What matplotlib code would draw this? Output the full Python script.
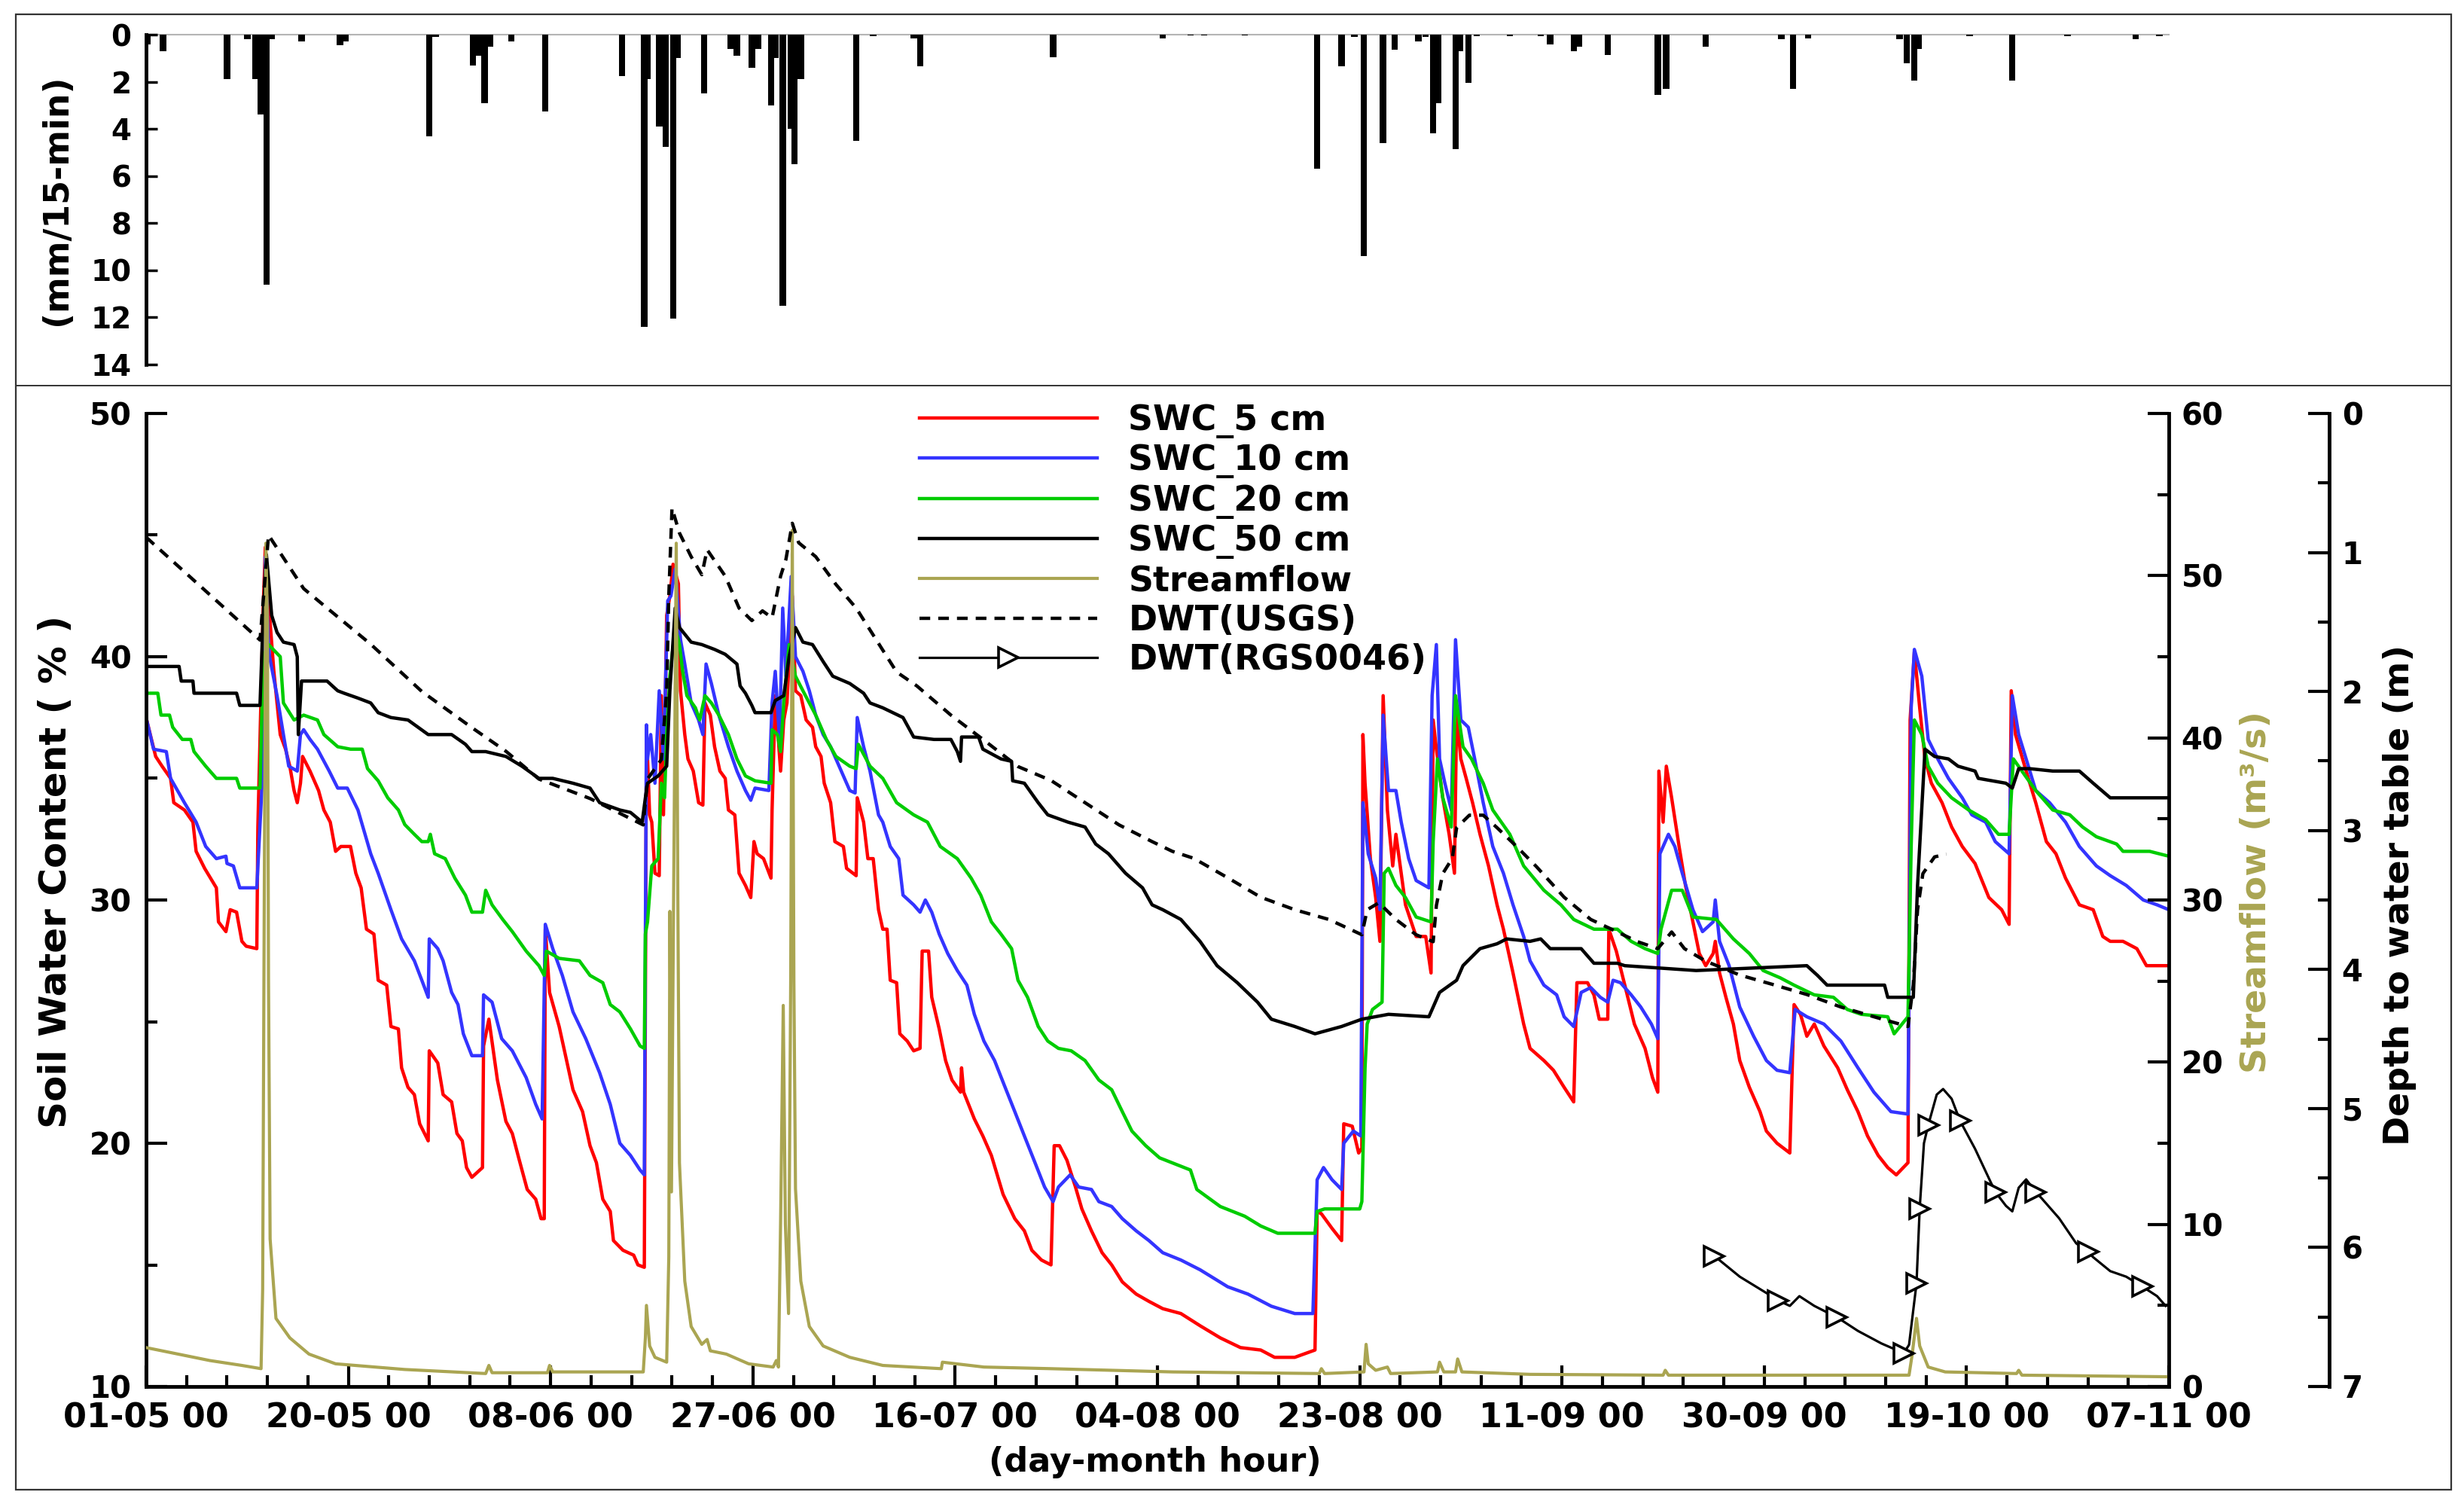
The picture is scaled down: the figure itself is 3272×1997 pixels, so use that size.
import matplotlib
matplotlib.use("Agg")
import matplotlib.pyplot as plt
from matplotlib.ticker import MultipleLocator, FixedLocator
from matplotlib.patches import Rectangle
from matplotlib.lines import Line2D

plt.rcParams["font.family"] = ["DejaVu Sans"]
plt.rcParams["font.weight"] = "bold"
plt.rcParams["axes.labelweight"] = "bold"

# day 0 = 01-05 00
tick_days = [0, 19, 38, 57, 76, 95, 114, 133, 152, 171, 190]
tick_labels = ["01-05 00", "20-05 00", "08-06 00", "27-06 00", "16-07 00", "04-08 00",
               "23-08 00", "11-09 00", "30-09 00", "19-10 00", "07-11 00"]

# rainfall (day, mm/15-min)
rain = [(0.1, 0.4), (1.6, 0.7), (7.6, 1.9), (9.5, 0.2), (10.3, 1.9), (10.8, 3.4), (11.3, 10.6),
        (11.8, 0.2), (14.6, 0.3), (18.2, 0.45), (18.7, 0.3), (26.6, 4.3), (27.2, 0.1), (30.7, 1.3),
        (31.3, 0.9), (31.8, 2.9), (32.3, 0.5), (34.3, 0.3), (37.5, 3.25), (44.7, 1.75), (46.8, 12.4),
        (47.1, 1.9), (48.2, 3.9), (48.8, 4.75), (49.5, 12.05), (49.9, 1.0), (52.4, 2.5), (54.9, 0.6),
        (55.5, 0.9), (56.9, 1.4), (57.5, 0.6), (58.7, 3.0), (59.1, 1.0), (59.8, 11.5), (60.6, 4.0),
        (60.9, 5.5), (61.5, 1.9), (66.7, 4.5), (68.3, 0.05), (72.1, 0.15), (72.7, 1.35), (85.2, 0.95),
        (95.5, 0.15), (98.1, 0.03), (99.4, 0.03), (103.2, 0.03), (110.0, 5.7), (112.3, 1.35),
        (113.5, 0.1), (114.4, 9.4), (116.2, 4.6), (117.3, 0.65), (119.5, 0.3), (120.2, 0.1),
        (120.9, 4.2), (121.4, 2.9), (123.0, 4.85), (123.4, 0.7), (124.2, 2.05), (125.0, 0.05),
        (128.1, 0.05), (131.0, 0.05), (131.9, 0.4), (134.1, 0.7), (134.6, 0.5), (137.3, 0.85),
        (142.0, 2.55), (142.8, 2.3), (146.5, 0.5), (153.6, 0.2), (154.7, 2.3), (156.1, 0.15),
        (164.7, 0.2), (165.4, 1.2), (166.1, 1.95), (166.5, 0.6), (171.3, 0.05), (175.3, 1.95),
        (180.5, 0.05), (186.9, 0.2), (189.1, 0.05)]

# soil water content (day, %)
swc_5 = [(0.0, 37.5), (0.9, 35.9), (1.5, 35.5), (2.3, 35.0), (2.6, 34.0), (3.6, 33.7), (4.4, 33.2),
         (4.7, 32.0), (5.5, 31.3), (6.6, 30.5), (6.8, 29.1), (7.5, 28.7), (7.9, 29.6), (8.5, 29.5),
         (9.0, 28.3), (9.4, 28.1), (10.4, 28.0), (10.5, 33.0), (11.0, 42.0), (11.2, 44.5), (11.6, 41.7),
         (12.0, 39.4), (12.6, 36.8), (13.1, 36.2), (13.5, 35.5), (13.9, 34.5), (14.2, 34.0), (14.5, 34.8),
         (14.7, 35.9), (15.4, 35.3), (16.2, 34.5), (16.7, 33.7), (17.3, 33.2), (17.8, 32.0), (18.3, 32.2),
         (19.2, 32.2), (19.7, 31.1), (20.2, 30.5), (20.7, 28.8), (21.4, 28.6), (21.8, 26.7), (22.6, 26.5),
         (23.0, 24.8), (23.7, 24.7), (24.0, 23.1), (24.6, 22.3), (25.2, 22.0), (25.7, 20.8), (26.5, 20.1),
         (26.6, 23.8), (27.4, 23.3), (27.9, 22.0), (28.7, 21.7), (29.2, 20.4), (29.7, 20.1), (30.1, 19.0),
         (30.6, 18.6), (31.6, 19.0), (31.7, 24.0), (32.2, 25.1), (33.0, 22.6), (33.8, 20.9), (34.4, 20.4),
         (35.0, 19.4), (35.8, 18.1), (36.6, 17.7), (37.1, 16.9), (37.4, 16.9), (37.5, 28.8), (37.9, 26.2),
         (38.8, 24.8), (39.4, 23.6), (40.1, 22.2), (41.0, 21.3), (41.7, 19.9), (42.3, 19.2), (42.9, 17.7),
         (43.6, 17.2), (43.9, 16.0), (44.8, 15.6), (45.8, 15.4), (46.2, 15.0), (46.8, 14.9), (47.0, 37.0),
         (47.3, 33.5), (47.5, 33.2), (47.8, 31.1), (48.2, 31.0), (48.4, 38.4), (48.6, 33.5), (48.9, 41.7),
         (49.2, 42.5), (49.5, 43.8), (50.0, 43.0), (50.2, 38.6), (50.6, 36.8), (50.9, 35.8), (51.4, 35.3),
         (51.9, 34.0), (52.3, 33.9), (52.5, 38.1), (53.0, 37.6), (53.4, 36.3), (53.9, 35.3), (54.4, 35.0),
         (54.7, 33.7), (55.3, 33.5), (55.7, 31.1), (56.3, 30.6), (56.8, 30.1), (57.1, 32.4), (57.4, 31.9),
         (58.0, 31.7), (58.7, 30.9), (58.8, 33.7), (59.1, 38.4), (59.6, 35.3), (59.9, 37.4), (60.2, 38.1),
         (60.7, 42.5), (61.0, 38.6), (61.5, 38.4), (62.0, 37.4), (62.6, 37.1), (62.9, 36.3), (63.4, 35.9),
         (63.7, 34.8), (64.3, 34.0), (64.7, 32.4), (65.5, 32.2), (65.8, 31.3), (66.7, 31.0), (66.8, 34.2),
         (67.4, 33.2), (67.8, 31.7), (68.3, 31.7), (68.8, 29.6), (69.2, 28.8), (69.6, 28.8), (69.9, 26.7),
         (70.5, 26.6), (70.8, 24.5), (71.5, 24.2), (72.1, 23.8), (72.7, 23.9), (72.9, 27.9), (73.5, 27.9),
         (73.8, 26.0), (74.5, 24.7), (75.1, 23.4), (75.7, 22.6), (76.5, 22.1), (76.6, 23.1), (76.8, 22.1),
         (77.8, 21.0), (78.6, 20.3), (79.4, 19.5), (80.5, 17.9), (81.6, 16.9), (82.5, 16.4), (83.2, 15.6),
         (84.1, 15.2), (85.0, 15.0), (85.3, 19.9), (85.8, 19.9), (86.5, 19.3), (87.3, 18.2), (87.9, 17.3),
         (88.8, 16.4), (89.8, 15.5), (90.7, 15.0), (91.7, 14.3), (93.0, 13.8), (94.2, 13.5), (95.5, 13.2),
         (97.2, 13.0), (99.0, 12.5), (100.9, 12.0), (102.8, 11.6), (104.7, 11.5), (106.0, 11.2),
         (107.9, 11.2), (109.8, 11.5), (110.0, 17.2), (110.4, 17.1), (111.4, 16.5), (112.3, 16.0),
         (112.5, 20.8), (113.3, 20.7), (113.9, 19.6), (114.2, 19.8), (114.3, 36.8), (114.5, 34.8),
         (115.0, 31.7), (115.5, 30.1), (115.9, 28.3), (116.2, 38.4), (116.6, 33.7), (117.1, 31.4),
         (117.4, 32.7), (117.9, 31.1), (118.3, 29.8), (119.3, 28.5), (120.2, 28.5), (120.7, 27.0),
         (120.9, 37.4), (121.2, 36.2), (121.8, 34.2), (122.4, 32.7), (122.9, 31.1), (123.1, 37.6),
         (123.5, 35.8), (124.0, 35.0), (124.6, 34.0), (125.3, 32.7), (126.1, 31.4), (126.9, 29.8),
         (127.5, 28.8), (128.4, 27.0), (129.4, 24.9), (130.0, 23.9), (131.3, 23.4), (132.2, 23.0),
         (133.2, 22.3), (134.1, 21.7), (134.4, 26.6), (135.4, 26.6), (136.0, 26.1), (136.5, 25.1),
         (137.3, 25.1), (137.4, 28.8), (138.1, 27.9), (138.9, 26.5), (139.8, 24.9), (140.8, 23.9),
         (141.5, 22.7), (142.0, 22.1), (142.1, 35.3), (142.5, 33.2), (142.8, 35.5), (143.3, 34.2),
         (144.0, 32.2), (144.6, 30.6), (145.3, 29.1), (145.9, 27.8), (146.5, 27.3), (147.2, 27.8),
         (147.4, 28.3), (147.8, 27.0), (148.4, 26.0), (149.1, 24.9), (149.7, 23.4), (150.6, 22.3),
         (151.6, 21.3), (152.2, 20.5), (153.2, 20.0), (154.4, 19.6), (154.8, 25.7), (155.4, 25.3),
         (156.0, 24.4), (156.7, 24.9), (157.6, 24.0), (158.9, 23.1), (159.8, 22.2), (160.8, 21.3),
         (161.7, 20.3), (162.7, 19.5), (163.6, 19.0), (164.4, 18.7), (165.5, 19.2), (165.7, 37.4),
         (166.1, 40.2), (166.6, 37.9), (167.1, 35.8), (167.7, 34.8), (168.7, 34.0), (169.6, 33.0),
         (170.6, 32.2), (171.8, 31.5), (173.1, 30.1), (174.3, 29.6), (175.0, 29.0), (175.2, 38.6),
         (175.6, 36.8), (176.6, 35.3), (177.5, 34.0), (178.5, 32.4), (179.4, 31.9), (180.3, 30.9),
         (181.6, 29.8), (182.9, 29.6), (183.8, 28.5), (184.5, 28.3), (185.7, 28.3), (187.0, 28.0),
         (187.9, 27.3), (190.0, 27.3)]

swc_10 = [(0.0, 37.5), (0.7, 36.2), (1.9, 36.1), (2.3, 35.0), (3.6, 34.0), (4.7, 33.2), (5.6, 32.2),
          (6.6, 31.7), (7.5, 31.8), (7.6, 31.5), (8.2, 31.4), (8.8, 30.5), (10.4, 30.5), (10.9, 34.8),
          (11.2, 44.1), (11.5, 40.5), (11.6, 40.0), (12.3, 38.4), (12.9, 36.8), (13.4, 35.5), (14.2, 35.3),
          (14.5, 36.8), (14.8, 37.0), (15.4, 36.6), (16.1, 36.2), (17.2, 35.3), (18.0, 34.6), (18.9, 34.6),
          (19.9, 33.7), (21.1, 31.9), (21.8, 31.1), (23.0, 29.6), (24.0, 28.4), (25.2, 27.5), (25.9, 26.7),
          (26.5, 26.0), (26.6, 28.4), (27.4, 28.0), (27.9, 27.5), (28.7, 26.2), (29.3, 25.7), (29.8, 24.5),
          (30.6, 23.6), (31.6, 23.6), (31.7, 26.1), (32.5, 25.8), (33.4, 24.3), (34.4, 23.8), (35.7, 22.7),
          (36.6, 21.6), (37.2, 21.0), (37.5, 29.0), (38.2, 28.0), (39.1, 26.9), (40.1, 25.4), (41.3, 24.3),
          (42.6, 22.9), (43.6, 21.6), (44.5, 20.0), (45.5, 19.5), (46.4, 18.9), (46.8, 18.7), (46.9, 28.6),
          (47.0, 37.2), (47.1, 35.8), (47.4, 36.8), (47.8, 34.8), (48.2, 38.6), (48.6, 35.8), (49.0, 42.3),
          (49.3, 42.5), (49.7, 43.6), (50.2, 40.7), (50.6, 39.7), (51.2, 38.1), (51.9, 37.4), (52.3, 36.8),
          (52.6, 39.7), (53.1, 38.9), (53.8, 37.6), (54.7, 36.3), (55.5, 35.3), (56.3, 34.5), (56.8, 34.1),
          (57.2, 34.6), (58.5, 34.5), (58.8, 38.1), (59.1, 39.4), (59.5, 36.6), (59.8, 42.0), (60.1, 39.2),
          (60.6, 43.3), (61.0, 40.0), (61.7, 39.4), (62.3, 38.6), (62.9, 37.6), (63.6, 36.8), (64.3, 36.3),
          (65.3, 35.3), (66.1, 34.5), (66.6, 34.4), (66.8, 37.5), (67.4, 36.3), (68.0, 35.3), (68.8, 33.5),
          (69.2, 33.2), (69.9, 32.2), (70.7, 31.7), (71.1, 30.2), (72.1, 29.8), (72.7, 29.5), (73.2, 30.0),
          (73.8, 29.5), (74.5, 28.6), (75.3, 27.8), (76.2, 27.1), (77.1, 26.5), (77.8, 25.3), (78.7, 24.2),
          (79.7, 23.4), (80.6, 22.4), (81.6, 21.3), (82.5, 20.3), (83.5, 19.2), (84.4, 18.2), (85.2, 17.6),
          (85.7, 18.2), (86.8, 18.7), (87.6, 18.2), (88.8, 18.1), (89.5, 17.6), (90.7, 17.4), (91.7, 16.9),
          (93.0, 16.4), (94.2, 16.0), (95.5, 15.5), (97.2, 15.2), (99.0, 14.8), (101.6, 14.1), (103.5, 13.8),
          (105.7, 13.3), (107.9, 13.0), (109.6, 13.0), (110.0, 18.5), (110.6, 19.0), (111.4, 18.5),
          (112.3, 18.1), (112.5, 20.0), (113.4, 20.5), (114.1, 20.3), (114.3, 34.0), (114.8, 31.9),
          (115.5, 30.9), (115.9, 29.6), (116.2, 37.6), (116.7, 34.5), (117.4, 34.5), (117.9, 33.2),
          (118.6, 31.7), (119.3, 30.8), (120.5, 30.5), (120.8, 38.4), (121.2, 40.5), (121.5, 35.8),
          (122.0, 34.8), (122.6, 33.7), (123.0, 40.7), (123.5, 37.4), (124.2, 37.1), (124.8, 35.8),
          (125.6, 34.0), (126.5, 32.2), (127.5, 31.1), (128.4, 29.8), (129.4, 28.5), (130.0, 27.5),
          (131.3, 26.5), (132.5, 26.1), (133.2, 25.2), (134.1, 24.8), (134.8, 26.2), (135.7, 26.4),
          (136.6, 26.0), (137.3, 25.8), (137.8, 26.7), (138.5, 26.6), (139.5, 26.1), (140.4, 25.6),
          (141.4, 24.9), (142.0, 24.3), (142.2, 31.9), (143.0, 32.7), (143.6, 32.2), (144.3, 31.1),
          (145.3, 29.6), (146.2, 28.7), (147.2, 29.1), (147.4, 30.0), (147.8, 28.3), (148.7, 27.3),
          (149.7, 25.6), (151.0, 24.4), (152.2, 23.4), (153.2, 23.0), (154.4, 22.9), (154.9, 25.5),
          (156.0, 25.2), (157.6, 24.9), (159.2, 24.2), (160.8, 23.1), (162.3, 22.1), (163.9, 21.3),
          (165.5, 21.2), (165.8, 37.9), (166.1, 40.3), (166.8, 39.2), (167.4, 36.6), (168.3, 35.8),
          (169.3, 35.0), (170.6, 34.2), (171.5, 33.5), (172.8, 33.2), (173.7, 32.4), (175.0, 31.9),
          (175.3, 38.4), (175.9, 36.8), (176.6, 35.8), (177.5, 34.5), (178.8, 34.0), (180.3, 33.2),
          (181.6, 32.2), (183.2, 31.4), (184.5, 31.0), (186.0, 30.6), (187.6, 30.0), (188.9, 29.8),
          (190.0, 29.6)]

swc_20 = [(0.0, 38.5), (1.1, 38.5), (1.4, 37.6), (2.2, 37.6), (2.5, 37.1), (3.4, 36.6), (4.2, 36.6),
          (4.5, 36.1), (5.6, 35.5), (6.6, 35.0), (8.5, 35.0), (8.8, 34.6), (10.7, 34.6), (11.0, 40.0),
          (11.5, 40.5), (12.6, 40.0), (12.9, 38.1), (13.9, 37.4), (14.8, 37.6), (16.1, 37.4), (16.7, 36.8),
          (18.0, 36.3), (19.2, 36.2), (20.3, 36.2), (20.8, 35.4), (21.8, 34.9), (22.7, 34.2), (23.7, 33.7),
          (24.3, 33.1), (25.2, 32.7), (25.9, 32.4), (26.5, 32.4), (26.7, 32.7), (27.1, 31.9), (28.1, 31.7),
          (29.0, 30.9), (30.0, 30.2), (30.6, 29.5), (31.6, 29.5), (31.9, 30.4), (32.5, 29.8), (33.5, 29.2),
          (34.4, 28.7), (35.7, 27.9), (36.9, 27.3), (37.4, 26.9), (37.6, 27.9), (38.8, 27.6), (40.7, 27.5),
          (41.7, 26.9), (42.9, 26.6), (43.6, 25.7), (44.5, 25.4), (45.5, 24.7), (46.4, 24.0), (46.8, 23.9),
          (46.9, 28.6), (47.1, 29.1), (47.5, 31.4), (48.1, 31.7), (48.4, 34.8), (48.7, 34.2), (48.9, 36.8),
          (49.2, 39.2), (49.7, 41.2), (50.1, 40.5), (50.4, 39.4), (50.8, 38.4), (51.6, 37.9), (52.0, 37.4),
          (52.5, 38.4), (53.1, 38.1), (53.8, 37.6), (54.7, 36.8), (55.5, 35.8), (56.3, 35.1), (57.2, 34.9),
          (58.7, 34.8), (58.8, 37.0), (59.3, 36.8), (59.6, 36.1), (59.9, 38.1), (60.4, 40.5), (61.0, 39.2),
          (61.7, 38.6), (62.3, 38.1), (62.9, 37.6), (63.9, 36.6), (64.8, 35.9), (66.1, 35.5), (66.7, 35.4),
          (66.9, 36.4), (68.0, 35.5), (69.2, 35.0), (70.5, 34.0), (72.1, 33.5), (73.4, 33.2), (74.6, 32.2),
          (76.2, 31.7), (77.5, 30.9), (78.4, 30.2), (79.4, 29.1), (80.3, 28.6), (81.3, 28.0), (81.9, 26.7),
          (82.8, 26.0), (83.8, 24.8), (84.7, 24.2), (85.7, 23.9), (86.9, 23.8), (88.2, 23.4), (89.5, 22.6),
          (90.7, 22.2), (91.7, 21.3), (92.6, 20.5), (93.9, 19.9), (95.2, 19.4), (98.1, 18.9), (98.7, 18.1),
          (100.9, 17.4), (103.2, 17.0), (104.7, 16.6), (106.3, 16.3), (109.8, 16.3), (110.0, 17.2),
          (110.7, 17.3), (114.0, 17.3), (114.2, 17.6), (114.5, 23.1), (114.7, 24.9), (115.2, 25.5),
          (116.1, 25.8), (116.3, 31.1), (116.7, 31.3), (117.4, 30.6), (118.3, 30.1), (119.3, 29.3),
          (120.7, 29.1), (120.9, 32.4), (121.3, 35.8), (121.8, 34.2), (122.6, 33.0), (123.0, 38.4),
          (123.7, 36.3), (124.5, 35.8), (125.6, 34.8), (126.5, 33.7), (128.1, 32.7), (129.4, 31.4),
          (131.3, 30.4), (132.9, 29.8), (134.1, 29.2), (136.0, 28.8), (138.2, 28.8), (139.5, 28.3),
          (140.8, 28.0), (142.0, 27.8), (142.3, 28.8), (143.3, 30.4), (144.3, 30.4), (145.3, 29.3),
          (147.5, 29.2), (149.1, 28.4), (150.6, 27.8), (151.9, 27.1), (153.5, 26.8), (154.8, 26.5),
          (156.7, 26.1), (158.5, 26.0), (159.8, 25.5), (161.1, 25.3), (163.6, 25.2), (164.2, 24.5),
          (165.5, 25.2), (165.8, 32.2), (166.1, 37.4), (166.8, 36.8), (167.4, 35.5), (168.3, 34.8),
          (169.6, 34.2), (171.2, 33.7), (172.8, 33.3), (174.0, 32.7), (175.0, 32.7), (175.4, 35.8),
          (176.2, 35.3), (177.5, 34.5), (179.1, 33.7), (180.7, 33.5), (181.9, 33.0), (183.2, 32.6),
          (185.1, 32.3), (185.7, 32.0), (188.2, 32.0), (190.0, 31.8)]

swc_50 = [(0.0, 39.6), (3.1, 39.6), (3.3, 39.0), (4.4, 39.0), (4.5, 38.5), (8.5, 38.5), (8.8, 38.0),
          (10.7, 38.0), (11.0, 41.7), (11.3, 44.2), (11.8, 41.7), (12.3, 41.0), (12.9, 40.6), (13.9, 40.5),
          (14.2, 40.0), (14.3, 36.8), (14.6, 39.0), (17.0, 39.0), (18.0, 38.6), (18.6, 38.5), (19.9, 38.3),
          (21.1, 38.1), (21.8, 37.7), (22.4, 37.6), (23.0, 37.5), (24.6, 37.4), (26.5, 36.8), (28.7, 36.8),
          (30.0, 36.4), (30.6, 36.1), (31.9, 36.1), (33.8, 35.9), (35.3, 35.5), (36.9, 35.0), (38.2, 35.0),
          (40.1, 34.8), (41.7, 34.6), (42.6, 34.0), (44.5, 33.7), (45.5, 33.6), (46.6, 33.2), (46.9, 34.2),
          (47.1, 34.8), (48.1, 35.1), (48.9, 35.5), (49.2, 38.6), (49.7, 42.0), (50.1, 41.2), (51.2, 40.6),
          (52.2, 40.5), (53.4, 40.3), (54.4, 40.1), (55.5, 39.7), (55.8, 38.8), (56.3, 38.5), (56.9, 38.0),
          (57.2, 37.7), (58.7, 37.7), (59.1, 38.2), (59.9, 38.4), (60.4, 40.0), (61.0, 41.2), (61.7, 40.6),
          (62.6, 40.5), (63.6, 39.8), (64.5, 39.2), (66.1, 38.9), (67.4, 38.5), (68.0, 38.1), (69.2, 37.9),
          (71.1, 37.5), (72.1, 36.7), (74.0, 36.6), (75.6, 36.6), (76.2, 36.1), (76.5, 35.7), (76.6, 36.7),
          (78.2, 36.7), (78.6, 36.2), (80.3, 35.8), (81.3, 35.7), (81.4, 34.9), (82.5, 34.8), (83.8, 34.0),
          (84.7, 33.5), (86.6, 33.2), (88.2, 33.0), (89.2, 32.3), (90.4, 31.9), (92.0, 31.1), (93.6, 30.5),
          (94.5, 29.8), (95.5, 29.6), (97.2, 29.2), (99.0, 28.3), (100.6, 27.3), (102.5, 26.6), (104.4, 25.8),
          (105.7, 25.1), (107.9, 24.8), (109.8, 24.5), (112.3, 24.8), (114.2, 25.1), (116.7, 25.3),
          (120.5, 25.2), (121.5, 26.2), (123.1, 26.7), (123.7, 27.3), (125.3, 28.0), (126.9, 28.2),
          (127.8, 28.4), (130.0, 28.3), (131.0, 28.4), (131.9, 28.0), (134.8, 28.0), (136.0, 27.4),
          (138.2, 27.4), (138.9, 27.3), (145.6, 27.1), (156.0, 27.3), (157.0, 26.9), (157.9, 26.5),
          (163.3, 26.5), (163.6, 26.0), (166.0, 26.0), (166.4, 30.6), (167.1, 36.2), (168.0, 35.9),
          (169.3, 35.8), (170.2, 35.5), (171.8, 35.3), (172.1, 35.0), (174.7, 34.8), (175.3, 34.6),
          (175.9, 35.4), (176.9, 35.4), (179.1, 35.3), (181.6, 35.3), (182.9, 34.8), (184.5, 34.2),
          (190.0, 34.2)]

# streamflow (day, m3/s)
streamflow = [(0.0, 2.4), (3.0, 2.0), (6.0, 1.6), (9.0, 1.3), (10.8, 1.1), (10.95, 6.0), (11.1, 30.0),
              (11.25, 52.0), (11.4, 47.0), (11.5, 25.0), (11.65, 9.1), (12.2, 4.2), (13.5, 3.0),
              (15.3, 2.0), (17.8, 1.4), (24.3, 1.05), (31.9, 0.8), (32.2, 1.3), (32.5, 0.85), (37.7, 0.85),
              (37.9, 1.3), (38.2, 0.9), (46.7, 0.9), (46.9, 3.0), (47.0, 5.0), (47.3, 2.5), (47.8, 1.8),
              (48.9, 1.5), (49.1, 8.0), (49.2, 29.3), (49.35, 12.0), (49.55, 30.0), (49.8, 52.0),
              (49.95, 30.0), (50.1, 13.8), (50.6, 6.5), (51.2, 3.7), (52.2, 2.6), (52.7, 2.9), (53.0, 2.2),
              (54.5, 2.0), (56.6, 1.4), (58.9, 1.2), (59.2, 1.6), (59.4, 1.2), (59.6, 10.1), (59.85, 23.5),
              (60.05, 10.0), (60.35, 4.5), (60.55, 25.0), (60.7, 52.8), (60.85, 25.0), (61.0, 12.2),
              (61.5, 6.5), (62.3, 3.7), (63.6, 2.5), (66.1, 1.8), (69.2, 1.3), (74.7, 1.1), (74.8, 1.5),
              (78.7, 1.2), (85.0, 1.1), (96.4, 0.9), (110.2, 0.8), (110.4, 1.1), (110.7, 0.8), (114.4, 0.9),
              (114.6, 2.6), (114.8, 1.4), (115.5, 1.0), (116.6, 1.2), (116.9, 0.8), (121.3, 0.9),
              (121.5, 1.5), (121.9, 0.9), (123.0, 0.9), (123.2, 1.7), (123.6, 0.9), (130.0, 0.75),
              (142.5, 0.7), (142.7, 1.0), (143.0, 0.7), (165.6, 0.7), (165.9, 2.0), (166.3, 4.2),
              (166.6, 2.5), (167.4, 1.2), (169.0, 0.9), (175.7, 0.8), (175.9, 1.0), (176.2, 0.7),
              (190.0, 0.6)]

# depth to water table (day, m)
dwt_usgs = [(0.0, 0.89), (10.7, 1.63), (11.5, 0.875), (14.8, 1.26), (21.1, 1.66), (25.9, 2.0),
            (30.6, 2.26), (33.8, 2.43), (36.9, 2.63), (41.7, 2.77), (46.7, 2.96), (47.1, 2.63),
            (48.4, 2.49), (48.9, 2.0), (49.1, 1.31), (49.4, 0.68), (50.1, 0.86), (51.2, 1.03),
            (52.2, 1.16), (52.7, 0.98), (54.4, 1.17), (55.7, 1.40), (56.9, 1.49), (57.9, 1.42),
            (58.8, 1.47), (59.6, 1.17), (60.1, 1.05), (60.7, 0.79), (61.3, 0.93), (62.9, 1.03),
            (64.8, 1.23), (66.7, 1.40), (68.6, 1.63), (70.5, 1.86), (72.4, 1.96), (75.6, 2.17),
            (78.7, 2.35), (81.9, 2.54), (85.0, 2.64), (88.2, 2.80), (91.4, 2.96), (94.5, 3.08),
            (96.4, 3.15), (98.4, 3.20), (101.6, 3.34), (104.7, 3.48), (107.9, 3.57), (111.1, 3.64),
            (114.2, 3.75), (114.7, 3.57), (115.8, 3.52), (117.4, 3.64), (119.3, 3.75), (120.9, 3.80),
            (121.2, 3.54), (121.8, 3.31), (122.7, 3.20), (123.1, 2.98), (124.3, 2.89), (125.6, 2.89),
            (126.9, 2.98), (128.8, 3.12), (130.6, 3.26), (133.2, 3.48), (135.7, 3.64), (138.2, 3.73),
            (140.1, 3.80), (142.0, 3.85), (143.3, 3.73), (144.5, 3.85), (146.5, 3.94), (149.7, 4.04),
            (152.9, 4.11), (156.0, 4.18), (159.2, 4.27), (162.3, 4.34), (165.5, 4.41), (166.0, 4.11),
            (166.4, 3.57), (166.9, 3.31), (168.0, 3.19), (169.1, 3.17)]

dwt_rgs = [(147.3, 6.06), (149.7, 6.21), (152.9, 6.36), (153.3, 6.38), (154.4, 6.42), (155.3, 6.35),
           (156.7, 6.42), (158.5, 6.49), (158.8, 6.50), (160.8, 6.60), (163.0, 6.69), (165.1, 6.76),
           (165.6, 6.70), (166.3, 6.26), (166.6, 5.72), (167.0, 5.25), (167.4, 5.12), (168.2, 4.90),
           (168.8, 4.86), (169.6, 4.93), (170.4, 5.09), (171.8, 5.29), (173.7, 5.60), (174.7, 5.70),
           (175.3, 5.74), (175.9, 5.57), (176.6, 5.51), (177.5, 5.60), (178.1, 5.65), (179.7, 5.79),
           (181.3, 5.97), (182.4, 6.03), (182.9, 6.07), (184.5, 6.17), (186.0, 6.21), (187.5, 6.28),
           (188.9, 6.35), (189.7, 6.42)]
rgs_marker_idx = [0, 3, 8, 11, 13, 14, 16, 20, 22, 27, 31, 35]

OLIVE = "#aaa552"
W, H = 3273, 1997

fig = plt.figure(figsize=(W / 100, H / 100), dpi=100)


def box(x0, y0, x1, y1):
    return [x0 / W, 1 - y1 / H, (x1 - x0) / W, (y1 - y0) / H]


# rainfall panel
ax_rain = fig.add_axes(box(194, 46, 2880, 484))
rd, rv = zip(*rain)
ax_rain.bar(rd, rv, width=0.6, color="black", zorder=2)
ax_rain.axhline(0, color="#b5b5b5", lw=1.5, clip_on=False, zorder=1)
ax_rain.set_xlim(0, 190)
ax_rain.set_ylim(14, 0)
for s in ["top", "right", "bottom"]:
    ax_rain.spines[s].set_visible(False)
ax_rain.spines["left"].set_linewidth(3.5)
ax_rain.set_xticks([])
ax_rain.yaxis.set_major_locator(MultipleLocator(2))
ax_rain.tick_params(axis="y", direction="in", length=11, width=2.5, labelsize=28, pad=14)
ax_rain.set_ylabel("(mm/15-min)", fontsize=33)
ax_rain.yaxis.set_label_coords(-0.0357, 0.5)

# main panel
ax = fig.add_axes(box(194, 549, 2880, 1841))
ax_q = ax.twinx()
ax_d = ax.twinx()

series = [(swc_5, "#ff0000", "SWC_5 cm"), (swc_10, "#3434ff", "SWC_10 cm"),
          (swc_20, "#00cc00", "SWC_20 cm"), (swc_50, "black", "SWC_50 cm")]
handles = []
for data, col, lab in series:
    d, v = zip(*data)
    h, = ax.plot(d, v, color=col, lw=3.2, label=lab)
    handles.append(h)

qd, qv = zip(*streamflow)
h, = ax_q.plot(qd, qv, color=OLIVE, lw=3.0, label="Streamflow")
handles.append(h)

ud, uv = zip(*dwt_usgs)
h, = ax_d.plot(ud, uv, color="black", lw=3.2, ls=(0, (3.2, 2.4)), label="DWT(USGS)")
handles.append(h)
gd, gv = zip(*dwt_rgs)
h, = ax_d.plot(gd, gv, color="black", lw=2.3, marker=">", ms=19, mfc="white", mec="black",
               mew=2.6, markevery=rgs_marker_idx, label="DWT(RGS0046)")
handles.append(h)

ax.set_xlim(0, 190)
ax.set_ylim(10, 50)
ax.xaxis.set_major_locator(FixedLocator(tick_days))
ax.set_xticklabels(tick_labels)
ax.xaxis.set_minor_locator(MultipleLocator(3.8))
ax.yaxis.set_major_locator(MultipleLocator(10))
ax.yaxis.set_minor_locator(MultipleLocator(5))
ax.tick_params(which="both", direction="in", width=3)
ax.tick_params(which="major", length=20)
ax.tick_params(which="minor", length=11)
ax.tick_params(axis="y", labelsize=29, pad=14)
ax.tick_params(axis="x", labelsize=32, pad=15)
for s in ["top", "right"]:
    ax.spines[s].set_visible(False)
for s in ["left", "bottom"]:
    ax.spines[s].set_linewidth(3.5)
ax.set_ylabel("Soil Water Content ( % )", fontsize=36)
ax.yaxis.set_label_coords(-0.0357, 0.529)
ax.set_xlabel("(day-month hour)", fontsize=32)
ax.xaxis.set_label_coords(0.4989, -0.061)

ax_q.set_ylim(0, 60)
ax_q.yaxis.set_major_locator(MultipleLocator(10))
ax_q.yaxis.set_minor_locator(MultipleLocator(5))
ax_q.tick_params(which="both", direction="in", width=3)
ax_q.tick_params(which="major", length=20, labelsize=29, pad=12)
ax_q.tick_params(which="minor", length=11)
for s in ["top", "left", "bottom"]:
    ax_q.spines[s].set_visible(False)
ax_q.spines["right"].set_linewidth(3.5)
ax_q.set_ylabel("Streamflow (m³/s)", fontsize=34, color=OLIVE)
ax_q.yaxis.set_label_coords(1.035, 0.508)

ax_d.set_ylim(7, 0)
ax_d.spines["right"].set_position(("axes", 1.0793))
ax_d.yaxis.set_major_locator(MultipleLocator(1))
ax_d.yaxis.set_minor_locator(MultipleLocator(0.5))
ax_d.tick_params(which="both", direction="in", width=3)
ax_d.tick_params(which="major", length=20, labelsize=29, pad=12)
ax_d.tick_params(which="minor", length=11)
for s in ["top", "left", "bottom"]:
    ax_d.spines[s].set_visible(False)
ax_d.spines["right"].set_linewidth(3.5)
ax_d.set_ylabel("Depth to water table (m)", fontsize=34)
ax_d.yaxis.set_label_coords(1.1057, 0.505)

fig.legend(handles, [hh.get_label() for hh in handles], loc="upper left",
           bbox_to_anchor=(1221 / W, 1 - 536 / H), frameon=False, borderpad=0,
           borderaxespad=0, handlelength=5.15, handletextpad=0.9, labelspacing=0.16,
           numpoints=1, fontsize=33)

# outer frame and panel divider
fig.add_artist(Rectangle((21 / W, 1 - 1978 / H), (3255 - 21) / W, (1978 - 19) / H,
                         transform=fig.transFigure, fill=False, ec="#333333", lw=1.6))
fig.add_artist(Line2D([21 / W, 3255 / W], [1 - 512 / H, 1 - 512 / H],
                      transform=fig.transFigure, color="#333333", lw=1.4))

fig.savefig("out.png", dpi=100)
